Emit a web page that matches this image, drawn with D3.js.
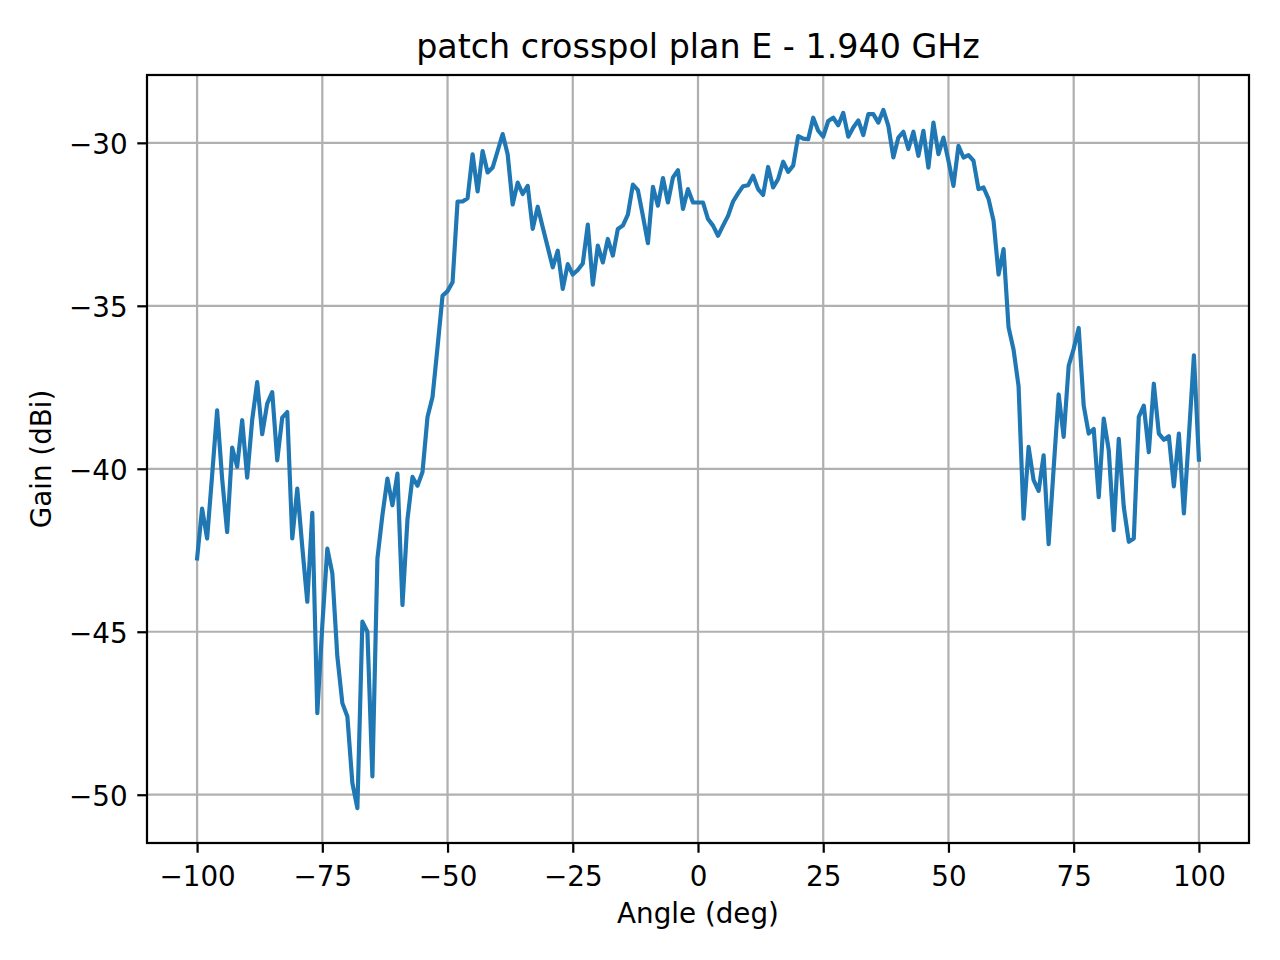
<!DOCTYPE html>
<html>
<head>
<meta charset="utf-8">
<script src="https://cdn.jsdelivr.net/npm/d3@7"></script>
<style>
    body { margin: 0; background: #ffffff; }
    text { font-family: "DejaVu Sans", sans-serif; fill: #000000; }
</style>
</head>
<body>
<div id="chart"></div>
<script>
// Measured pattern: one sample per degree, -100 .. 100
var angles = d3.range(-100, 101, 1);

var gains = [
    -42.75, -41.22, -42.14, -40.20, -38.21, -40.30, -41.94, -39.35, -39.94, -38.51,
    -40.27, -38.50, -37.34, -38.94, -38.00, -37.65, -39.74, -38.43, -38.26, -42.14,
    -40.61, -42.40, -44.08, -41.35, -47.50, -44.80, -42.45, -43.21, -45.76, -47.19,
    -47.60, -49.64, -50.41, -44.69, -45.00, -49.44, -42.75, -41.42, -40.30, -41.12,
    -40.15, -44.18, -41.55, -40.25, -40.52, -40.10, -38.41, -37.80, -36.27, -34.69,
    -34.55, -34.28, -31.80, -31.80, -31.70, -30.35, -31.49, -30.25, -30.91, -30.76,
    -30.25, -29.73, -30.35, -31.89, -31.22, -31.57, -31.32, -32.64, -31.96, -32.59,
    -33.20, -33.82, -33.31, -34.48, -33.72, -34.04, -33.90, -33.70, -32.51, -34.35,
    -33.15, -33.67, -32.95, -33.46, -32.64, -32.54, -32.20, -31.28, -31.45, -32.24,
    -33.08, -31.35, -31.93, -31.08, -31.83, -31.06, -30.84, -32.03, -31.42, -31.83,
    -31.83, -31.83, -32.34, -32.54, -32.85, -32.54, -32.24, -31.80, -31.55, -31.33,
    -31.30, -31.01, -31.42, -31.60, -30.74, -31.37, -31.11, -30.58, -30.89, -30.70,
    -29.79, -29.87, -29.89, -29.23, -29.63, -29.81, -29.33, -29.23, -29.46, -29.08,
    -29.81, -29.53, -29.31, -29.76, -29.12, -29.12, -29.38, -28.99, -29.48, -30.45,
    -29.84, -29.66, -30.19, -29.66, -30.40, -29.63, -30.76, -29.38, -30.35, -29.84,
    -30.55, -31.32, -30.09, -30.45, -30.38, -30.55, -31.42, -31.37, -31.72, -32.39,
    -34.04, -33.26, -35.66, -36.35, -37.47, -41.53, -39.33, -40.35, -40.68, -39.59,
    -42.31, -39.99, -37.72, -39.02, -36.84, -36.32, -35.68, -38.06, -38.92, -38.78,
    -40.87, -38.46, -39.43, -41.88, -39.08, -41.17, -42.24, -42.14, -38.41, -38.06,
    -39.49, -37.39, -38.92, -39.11, -39.00, -40.54, -38.92, -41.37, -39.00, -36.52,
    -39.72
];

var xTicks = [-100, -75, -50, -25, 0, 25, 50, 75, 100];
var yTicks = [-50, -45, -40, -35, -30];

var titleText = "patch crosspol plan E - 1.940 GHz";
var xLabelText = "Angle (deg)";
var yLabelText = "Gain (dBi)";

var svgWidth = 1280;
var svgHeight = 960;

var margin = {
    top: 75,
    right: 31,
    bottom: 117,
    left: 147
};

var width = svgWidth - margin.left - margin.right;
var height = svgHeight - margin.top - margin.bottom;

// matplotlib style sizes at 200 dpi
var pt = 200 / 72;
var tickLen = 3.5 * pt;
var tickPad = 3.5 * pt;

var svg = d3.select("#chart")
    .append("svg")
    .attr("width", svgWidth)
    .attr("height", svgHeight);

var chartGroup = svg.append("g")
    .attr("transform", `translate(${margin.left}, ${margin.top})`);

var points = angles.map(function (a, i) {
    return { angle: a, gain: gains[i] };
});

// 5% padding on both axes, like matplotlib autoscale
var xExt = d3.extent(points, d => d.angle);
var yExt = d3.extent(points, d => d.gain);
var xPad = (xExt[1] - xExt[0]) * 0.05;
var yPad = (yExt[1] - yExt[0]) * 0.05;

var xScale = d3.scaleLinear()
    .domain([xExt[0] - xPad, xExt[1] + xPad])
    .range([0, width]);

var yScale = d3.scaleLinear()
    .domain([yExt[0] - yPad, yExt[1] + yPad])
    .range([height, 0]);

// grid
chartGroup.append("g")
    .selectAll("line")
    .data(xTicks)
    .enter()
    .append("line")
    .attr("x1", d => xScale(d))
    .attr("x2", d => xScale(d))
    .attr("y1", 0)
    .attr("y2", height)
    .attr("stroke", "#b0b0b0")
    .attr("stroke-width", 0.8 * pt);

chartGroup.append("g")
    .selectAll("line")
    .data(yTicks)
    .enter()
    .append("line")
    .attr("x1", 0)
    .attr("x2", width)
    .attr("y1", d => yScale(d))
    .attr("y2", d => yScale(d))
    .attr("stroke", "#b0b0b0")
    .attr("stroke-width", 0.8 * pt);

// the line
var line = d3.line()
    .x(d => xScale(d.angle))
    .y(d => yScale(d.gain));

chartGroup.append("path")
    .datum(points)
    .attr("fill", "none")
    .attr("stroke", "#1f77b4")
    .attr("stroke-width", 1.5 * pt)
    .attr("stroke-linejoin", "round")
    .attr("stroke-linecap", "square")
    .attr("d", line);

// axes
var bottomAxis = d3.axisBottom(xScale)
    .tickValues(xTicks)
    .tickSize(tickLen)
    .tickPadding(tickPad)
    .tickSizeOuter(0);

var leftAxis = d3.axisLeft(yScale)
    .tickValues(yTicks)
    .tickSize(tickLen)
    .tickPadding(tickPad)
    .tickSizeOuter(0);

var xAxisG = chartGroup.append("g")
    .attr("transform", `translate(0, ${height})`)
    .call(bottomAxis);

var yAxisG = chartGroup.append("g")
    .call(leftAxis);

[xAxisG, yAxisG].forEach(function (g) {
    g.select(".domain").remove();
    g.selectAll(".tick line")
        .attr("stroke", "#000")
        .attr("stroke-width", 0.8 * pt);
    g.selectAll(".tick text")
        .attr("font-family", "DejaVu Sans")
        .attr("font-size", 10 * pt)
        .attr("fill", "#000");
});

xAxisG.selectAll(".tick text")
    .attr("y", tickLen + tickPad + 23.5)
    .attr("dy", null);

yAxisG.selectAll(".tick text")
    .attr("dy", "0.39em");

// frame
chartGroup.append("rect")
    .attr("x", 0)
    .attr("y", 0)
    .attr("width", width)
    .attr("height", height)
    .attr("fill", "none")
    .attr("stroke", "#000")
    .attr("stroke-width", 0.8 * pt);

// labels
svg.append("text")
    .attr("x", margin.left + width / 2)
    .attr("y", margin.top - 6 * pt)
    .attr("text-anchor", "middle")
    .attr("font-size", 12 * pt)
    .text(titleText);

svg.append("text")
    .attr("x", margin.left + width / 2)
    .attr("y", 923)
    .attr("text-anchor", "middle")
    .attr("font-size", 10 * pt)
    .text(xLabelText);

svg.append("text")
    .attr("transform", `translate(51, ${margin.top + height / 2}) rotate(-90)`)
    .attr("text-anchor", "middle")
    .attr("font-size", 10 * pt)
    .text(yLabelText);
</script>
</body>
</html>
